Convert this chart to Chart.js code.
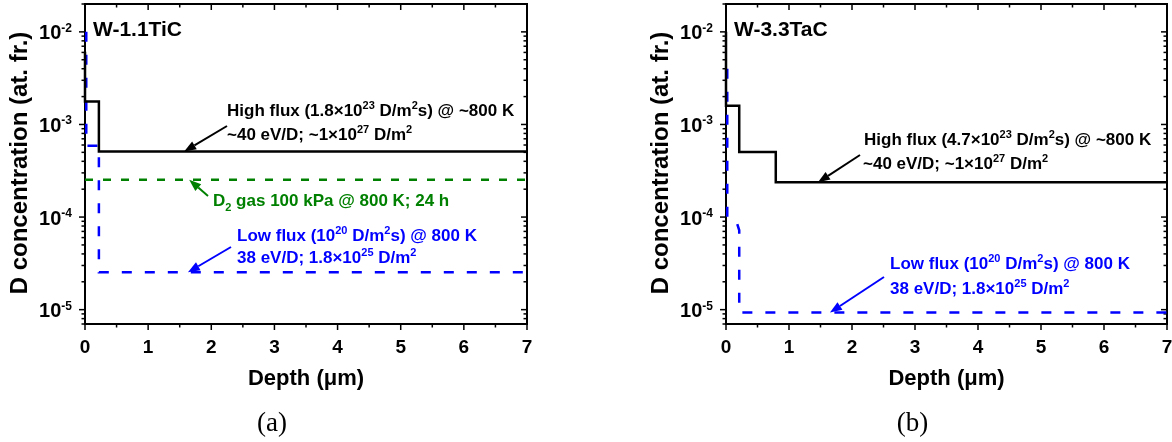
<!DOCTYPE html>
<html>
<head>
<meta charset="utf-8">
<script src="https://cdn.jsdelivr.net/npm/chart.js@4"></script>
<style>
  body { margin: 0; background: #fff; }
  #wrap { position: relative; width: 1172px; height: 442px; overflow: hidden; }
  canvas { position: absolute; top: 0; }
  #chart-a { left: 0; }
  #chart-b { left: 600px; }
</style>
</head>
<body>
<div id="wrap">
  <canvas id="chart-a" width="580" height="442"></canvas>
  <canvas id="chart-b" width="572" height="442"></canvas>
</div>
<script>
// Depth axis (um) and concentration axis (at. fr.)
const depthTicks = [0, 1, 2, 3, 4, 5, 6, 7];
const concDecades = [-5, -4, -3, -2];

// (a) W-1.1TiC
const ticHighX = [0, 0, 0.22, 0.22, 7];
const ticHighY = [6.1e-3, 1.77e-3, 1.77e-3, 5.1e-4, 5.1e-4];
const ticGasX = [0, 7];
const ticGasY = [2.53e-4, 2.53e-4];
const ticLowX = [0.02, 0.02, 0.22, 0.22, 7];
const ticLowY = [1.0e-2, 5.9e-4, 5.9e-4, 2.53e-5, 2.53e-5];

// (b) W-3.3TaC
const tacHighX = [0, 0, 0.21, 0.21, 0.79, 0.79, 7];
const tacHighY = [1.0e-2, 1.59e-3, 1.59e-3, 5.04e-4, 5.04e-4, 2.37e-4, 2.37e-4];
const tacLowX = [0.02, 0.02, 0.17, 0.21, 0.21, 7];
const tacLowY = [4.0e-3, 1.0e-4, 8.8e-5, 7.2e-5, 9.3e-6, 9.3e-6];

const FONT = 'Arial, "Liberation Sans", sans-serif';
const BLUE = '#0000ff';
const GREEN = '#008000';

document.addEventListener("DOMContentLoaded", () => {

    // split "10^{23}" / "D_{2}" into normal, sup and sub parts
    function parseRich(s) {
        const parts = [];
        const re = /(\^|_)\{([^}]*)\}/g;
        let last = 0, m;
        while ((m = re.exec(s))) {
            if (m.index > last) parts.push([s.slice(last, m.index), 'n']);
            parts.push([m[2], m[1] === '^' ? 'sup' : 'sub']);
            last = re.lastIndex;
        }
        if (last < s.length) parts.push([s.slice(last), 'n']);
        return parts;
    }

    function drawRich(ctx, x, y, s, size, color) {
        const parts = parseRich(s);
        const supSize = Math.round(size * 0.62);
        let cx = x;
        ctx.fillStyle = color;
        ctx.textAlign = 'left';
        ctx.textBaseline = 'alphabetic';
        for (const [txt, kind] of parts) {
            let fs = size, dy = 0;
            if (kind === 'sup') { fs = supSize; dy = -size * 0.42; }
            if (kind === 'sub') { fs = supSize; dy = size * 0.28; }
            ctx.font = `bold ${fs}px ${FONT}`;
            ctx.fillText(txt, cx, y + dy);
            cx += ctx.measureText(txt).width;
        }
    }

    function arrow(ctx, x0, y0, x1, y1, color) {
        const ang = Math.atan2(y1 - y0, x1 - x0);
        const head = 12, half = 4.5;
        const bx = x1 - head * Math.cos(ang), by = y1 - head * Math.sin(ang);
        ctx.strokeStyle = color;
        ctx.fillStyle = color;
        ctx.lineWidth = 2;
        ctx.setLineDash([]);
        ctx.beginPath();
        ctx.moveTo(x0, y0);
        ctx.lineTo(bx, by);
        ctx.stroke();
        ctx.beginPath();
        ctx.moveTo(x1, y1);
        ctx.lineTo(bx + half * Math.sin(ang), by - half * Math.cos(ang));
        ctx.lineTo(bx - half * Math.sin(ang), by + half * Math.cos(ang));
        ctx.closePath();
        ctx.fill();
    }

    // axes box and ticks under the lines, texts and arrows on top
    function makeDecorations(cfg) {
        return {
            id: 'decorations',
            beforeDatasetsDraw(chart) {
                const { ctx, chartArea: a, scales: { x, y } } = chart;
                ctx.save();
                ctx.strokeStyle = '#000';
                ctx.lineWidth = 1.5;
                ctx.setLineDash([]);

                const seg = (x0, y0, x1, y1) => {
                    ctx.beginPath();
                    ctx.moveTo(x0, y0);
                    ctx.lineTo(x1, y1);
                    ctx.stroke();
                };

                // x ticks (bottom outward, top inward)
                for (let v = 0; v <= 7; v += 0.5) {
                    const px = x.getPixelForValue(v);
                    const len = Number.isInteger(v) ? 6 : 3.5;
                    seg(px, a.bottom, px, a.bottom + len);
                    seg(px, a.top, px, a.top + len);
                }
                // y ticks (left outward, right inward)
                for (let e = -6; e <= -2; e++) {
                    for (let k = 1; k <= 9; k++) {
                        const v = k * Math.pow(10, e);
                        if (v < y.min * 0.999 || v > y.max * 1.001) continue;
                        const py = y.getPixelForValue(v);
                        const len = k === 1 ? 6 : 3.5;
                        seg(a.left - len, py, a.left, py);
                        seg(a.right - len, py, a.right, py);
                    }
                }
                ctx.lineWidth = 2;
                ctx.strokeRect(a.left, a.top, a.right - a.left, a.bottom - a.top);
                ctx.restore();
            },
            afterDraw(chart) {
                const { ctx, chartArea: a, scales: { x, y } } = chart;
                ctx.save();

                // tick labels
                ctx.fillStyle = '#000';
                ctx.font = `bold 19px ${FONT}`;
                ctx.textAlign = 'center';
                ctx.textBaseline = 'alphabetic';
                depthTicks.forEach(v => {
                    ctx.fillText(String(v), x.getPixelForValue(v), a.bottom + 29);
                });
                concDecades.forEach(e => {
                    const py = y.getPixelForValue(Math.pow(10, e));
                    ctx.font = `bold 12px ${FONT}`;
                    const supW = ctx.measureText(String(e)).width;
                    const right = a.left - 13;
                    ctx.textAlign = 'left';
                    ctx.fillText(String(e), right - supW, py);
                    ctx.font = `bold 20px ${FONT}`;
                    ctx.textAlign = 'right';
                    ctx.fillText('10', right - supW, py + 7.5);
                });

                // axis titles
                ctx.textAlign = 'center';
                ctx.font = `bold 22px ${FONT}`;
                ctx.fillText('Depth (\u03bcm)', (a.left + a.right) / 2, a.bottom + 61);
                ctx.save();
                ctx.translate(a.left - 58, a.top + 159);
                ctx.rotate(-Math.PI / 2);
                ctx.font = `bold 24px ${FONT}`;
                ctx.fillText('D concentration (at. fr.)', 0, 0);
                ctx.restore();

                // panel caption
                ctx.font = `27px "Liberation Serif", "Times New Roman", serif`;
                ctx.fillText(cfg.caption, (a.left + a.right) / 2 - 34, 431);

                // sample name
                ctx.textAlign = 'left';
                ctx.font = `bold 21px ${FONT}`;
                ctx.fillText(cfg.title, a.left + 8, 36);

                // notes and arrows
                cfg.notes.forEach(n => drawRich(ctx, n.x, n.y, n.text, 17, n.color));
                cfg.arrows.forEach(r => {
                    arrow(ctx, r.from[0], r.from[1],
                        x.getPixelForValue(r.to[0]), y.getPixelForValue(r.to[1]), r.color);
                });
                ctx.restore();
            }
        };
    }

    function series(xs, ys, color, width, dash) {
        return {
            data: xs.map((v, i) => ({ x: v, y: ys[i] })),
            borderColor: color,
            borderWidth: width,
            borderDash: dash,
            pointRadius: 0,
            fill: false,
            tension: 0,
            clip: false
        };
    }

    function makeChart(id, yWidth, padRight, datasets, cfg) {
        const ctx = document.getElementById(id).getContext('2d');
        return new Chart(ctx, {
            type: 'line',
            data: { datasets: datasets },
            options: {
                responsive: false,
                animation: false,
                layout: { padding: { left: 0, top: 4, right: padRight, bottom: 0 } },
                plugins: {
                    legend: { display: false },
                    tooltip: { enabled: false }
                },
                scales: {
                    x: {
                        type: 'linear', min: 0, max: 7,
                        grid: { display: false }, border: { display: false },
                        ticks: { display: false },
                        afterFit: s => { s.height = 118; }
                    },
                    y: {
                        type: 'logarithmic', min: 7e-6, max: 2e-2,
                        grid: { display: false }, border: { display: false },
                        ticks: { display: false },
                        afterFit: s => { s.width = yWidth; }
                    }
                }
            },
            plugins: [makeDecorations(cfg)]
        });
    }

    makeChart('chart-a', 85, 53, [
        series(ticHighX, ticHighY, '#000', 2.5, []),
        series(ticGasX, ticGasY, GREEN, 2.5, [8, 10]),
        series(ticLowX, ticLowY, BLUE, 2.5, [10, 13])
    ], {
        title: 'W-1.1TiC',
        caption: '(a)',
        notes: [
            { text: 'High flux (1.8\u00d710^{23} D/m^{2}s) @ ~800 K', x: 227, y: 116, color: '#000' },
            { text: '~40 eV/D; ~1\u00d710^{27} D/m^{2}', x: 227, y: 140, color: '#000' },
            { text: 'D_{2} gas 100 kPa @ 800 K; 24 h', x: 213, y: 206, color: GREEN },
            { text: 'Low flux (10^{20} D/m^{2}s) @ 800 K', x: 237, y: 241, color: BLUE },
            { text: '38 eV/D; 1.8\u00d710^{25} D/m^{2}', x: 237, y: 263, color: BLUE }
        ],
        arrows: [
            { from: [227, 126], to: [1.57, 5.1e-4], color: '#000' },
            { from: [208, 196], to: [1.65, 2.53e-4], color: GREEN },
            { from: [231, 247], to: [1.63, 2.53e-5], color: BLUE }
        ]
    });

    makeChart('chart-b', 126, 5, [
        series(tacHighX, tacHighY, '#000', 2.5, []),
        series(tacLowX, tacLowY, BLUE, 2.5, [10, 13])
    ], {
        title: 'W-3.3TaC',
        caption: '(b)',
        notes: [
            { text: 'High flux (4.7\u00d710^{23} D/m^{2}s) @ ~800 K', x: 264, y: 145, color: '#000' },
            { text: '~40 eV/D; ~1\u00d710^{27} D/m^{2}', x: 263, y: 169, color: '#000' },
            { text: 'Low flux (10^{20} D/m^{2}s) @ 800 K', x: 290, y: 269, color: BLUE },
            { text: '38 eV/D; 1.8\u00d710^{25} D/m^{2}', x: 290, y: 294, color: BLUE }
        ],
        arrows: [
            { from: [260, 155], to: [1.46, 2.37e-4], color: '#000' },
            { from: [284, 277], to: [1.65, 9.3e-6], color: BLUE }
        ]
    });
});
</script>
</body>
</html>
